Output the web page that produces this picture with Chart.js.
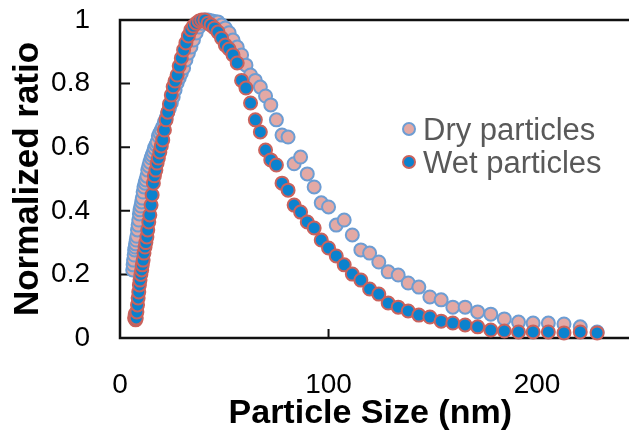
<!DOCTYPE html>
<html>
<head>
<meta charset="utf-8">
<script src="https://cdn.jsdelivr.net/npm/chart.js@4.4.0/dist/chart.umd.min.js"></script>
<style>
  body { margin: 0; background: #fff; }
  #wrap { width: 629px; height: 436px; }
</style>
</head>
<body>
<div id="wrap"><canvas id="chart" width="629" height="436"></canvas></div>
<script>
// Particle size channels (nm)
const sizes = [
    6.1, 6.3, 6.5, 6.8, 7.0, 7.3, 7.5, 7.8, 8.1, 8.4,
    8.7, 9.0, 9.3, 9.6, 10.0, 10.4, 10.7, 11.1, 11.5, 12.0,
    12.4, 12.9, 13.3, 13.8, 14.3, 14.9, 15.4, 16.0, 16.5, 17.2,
    17.8, 18.4, 19.1, 19.8, 20.5, 21.3, 22.1, 22.9, 23.7, 24.6,
    25.5, 26.4, 27.4, 28.4, 29.4, 30.5, 31.6, 32.8, 34.0, 35.2,
    36.5, 37.9, 39.2, 40.7, 42.2, 43.7, 45.3, 47.0, 48.7, 50.5,
    52.3, 54.2, 56.2, 58.3, 60.4, 62.6, 64.9, 67.3, 69.8, 72.3,
    75.0, 77.7, 80.6, 83.5, 86.6, 89.8, 93.1, 96.5, 100.0, 103.7,
    107.5, 111.4, 115.5, 119.7, 124.1, 128.6, 133.4, 138.2, 143.3, 148.6,
    154.0, 159.6, 165.5, 171.5, 177.8, 184.3, 191.1, 198.1, 205.4, 212.9,
    220.7, 228.8
];

// Normalized ratio, dry particles
const dryRatio = [
    0.214, 0.23, 0.245, 0.261, 0.277, 0.286, 0.296, 0.308, 0.32, 0.34,
    0.355, 0.371, 0.39, 0.403, 0.415, 0.428, 0.44, 0.459, 0.475, 0.487,
    0.497, 0.509, 0.528, 0.541, 0.553, 0.566, 0.575, 0.585, 0.597, 0.607,
    0.616, 0.635, 0.645, 0.654, 0.664, 0.679, 0.692, 0.71, 0.723, 0.739,
    0.758, 0.78, 0.802, 0.818, 0.833, 0.849, 0.874, 0.896, 0.915, 0.937,
    0.959, 0.978, 0.99, 1.0, 1.0, 0.998, 0.995, 0.994, 0.984, 0.975,
    0.96, 0.937, 0.915, 0.89, 0.858, 0.827, 0.81, 0.789, 0.761, 0.733,
    0.686, 0.638, 0.632, 0.548, 0.569, 0.516, 0.475, 0.425, 0.412, 0.355,
    0.371, 0.324, 0.277, 0.267, 0.239, 0.208, 0.198, 0.173, 0.16, 0.129,
    0.12, 0.097, 0.097, 0.082, 0.075, 0.06, 0.05, 0.047, 0.047, 0.044,
    0.035, 0.019
];

// Normalized ratio, wet particles (no data in the first channels)
const wetRatio = [
    null, null, null, null, 0.063, 0.075, 0.057, 0.063, 0.082, 0.104,
    0.126, 0.145, 0.167, 0.182, 0.2, 0.214, 0.23, 0.245, 0.267, 0.286,
    0.3, 0.318, 0.34, 0.365, 0.387, 0.418, 0.45, 0.487, 0.51, 0.528,
    0.55, 0.566, 0.585, 0.604, 0.623, 0.654, 0.686, 0.71, 0.736, 0.764,
    0.79, 0.808, 0.827, 0.855, 0.88, 0.906, 0.928, 0.95, 0.969, 0.981,
    0.99, 0.997, 1.0, 1.0, 0.99, 0.984, 0.975, 0.962, 0.943, 0.921,
    0.909, 0.89, 0.865, 0.81, 0.786, 0.739, 0.686, 0.648, 0.591, 0.56,
    0.544, 0.487, 0.465, 0.418, 0.396, 0.365, 0.346, 0.308, 0.283, 0.258,
    0.23, 0.201, 0.182, 0.154, 0.138, 0.11, 0.097, 0.085, 0.072, 0.066,
    0.053, 0.047, 0.041, 0.035, 0.025, 0.022, 0.019, 0.019, 0.019, 0.016,
    0.019, 0.016
];

const seriesNames = ["Dry particles", "Wet particles"];
const xTickValues = [0, 100, 200];

// Build {x, y} points from the arrays
function toPoints(values) {
    return sizes.map((s, i) => ({ x: s, y: values[i] })).filter(p => p.y !== null);
}

// Drop the automatic label padding so the plot box keeps its size
function noPadding(scale) {
    scale.paddingTop = 0;
    scale.paddingBottom = 0;
    scale.paddingLeft = 0;
    scale.paddingRight = 0;
}

// Box frame and inward tick marks, drawn under the points
const framePlugin = {
    id: "frame",
    beforeDatasetsDraw(chart) {
        const { ctx, chartArea: a, scales } = chart;
        ctx.save();
        ctx.strokeStyle = "#111";
        ctx.lineWidth = 2.5;
        ctx.beginPath();
        ctx.moveTo(chart.width, a.top);
        ctx.lineTo(a.left, a.top);
        ctx.lineTo(a.left, a.bottom);
        ctx.lineTo(chart.width, a.bottom);
        ctx.stroke();
        ctx.lineWidth = 2;
        ctx.beginPath();
        scales.y.ticks.forEach(t => {
            const y = scales.y.getPixelForValue(t.value);
            ctx.moveTo(a.left, y);
            ctx.lineTo(a.left + 10, y);
        });
        scales.x.ticks.forEach(t => {
            const x = scales.x.getPixelForValue(t.value);
            ctx.moveTo(x, a.bottom);
            ctx.lineTo(x, a.bottom - 9);
        });
        ctx.stroke();
        ctx.restore();
    }
};

// Legend placed inside the plot, as in the original
const legendPlugin = {
    id: "insideLegend",
    afterDraw(chart) {
        const { ctx } = chart;
        ctx.save();
        ctx.font = "31px 'Liberation Sans', Arial, sans-serif";
        ctx.textBaseline = "middle";
        chart.data.datasets.forEach((ds, i) => {
            const y = 129 + i * 33;
            ctx.beginPath();
            ctx.arc(409, y, 6, 0, Math.PI * 2);
            ctx.fillStyle = ds.backgroundColor;
            ctx.fill();
            ctx.lineWidth = 2;
            ctx.strokeStyle = ds.borderColor;
            ctx.stroke();
            ctx.fillStyle = "#595959";
            ctx.fillText(ds.label, 423, y + 2);
        });
        ctx.restore();
    }
};

const ctx = document.getElementById("chart").getContext("2d");
new Chart(ctx, {
    type: "scatter",
    data: {
        datasets: [
            {
                label: seriesNames[0],
                data: toPoints(dryRatio),
                backgroundColor: "#E3A9A5",
                borderColor: "#6D9DD3",
                borderWidth: 2,
                pointRadius: 6.5,
                order: 2,
                clip: false
            },
            {
                label: seriesNames[1],
                data: toPoints(wetRatio),
                backgroundColor: "#0B82CE",
                borderColor: "#CB625C",
                borderWidth: 2,
                pointRadius: 6.5,
                order: 1,
                clip: false
            }
        ]
    },
    options: {
        responsive: false,
        animation: false,
        layout: { padding: { top: 20, right: 0, left: 0, bottom: 0 } },
        plugins: {
            legend: { display: false },
            tooltip: { enabled: false }
        },
        scales: {
            x: {
                type: "linear",
                min: 0,
                max: 240,
                afterBuildTicks: scale => {
                    scale.ticks = xTickValues.map(v => ({ value: v }));
                },
                afterFit: scale => { scale.height = 98; noPadding(scale); },
                grid: { display: false, drawTicks: false },
                border: { display: false },
                ticks: {
                    padding: 30,
                    color: "#000",
                    font: { family: "'Liberation Sans', Arial", size: 28 }
                },
                title: {
                    display: true,
                    text: "Particle Size (nm)",
                    color: "#000",
                    padding: { top: 2, bottom: 2 },
                    font: { family: "'Liberation Sans', Arial", size: 34, weight: "bold" }
                }
            },
            y: {
                min: 0,
                max: 1,
                afterFit: scale => { scale.width = 120; noPadding(scale); },
                grid: { display: false, drawTicks: false },
                border: { display: false },
                ticks: {
                    stepSize: 0.2,
                    padding: 30,
                    color: "#000",
                    font: { family: "'Liberation Sans', Arial", size: 28 },
                    callback: v => String(Number(v.toFixed(1)))
                },
                title: {
                    display: true,
                    text: "Normalized ratio",
                    color: "#000",
                    padding: { top: 7, bottom: 7 },
                    font: { family: "'Liberation Sans', Arial", size: 35, weight: "bold" }
                }
            }
        }
    },
    plugins: [framePlugin, legendPlugin]
});
</script>
</body>
</html>
